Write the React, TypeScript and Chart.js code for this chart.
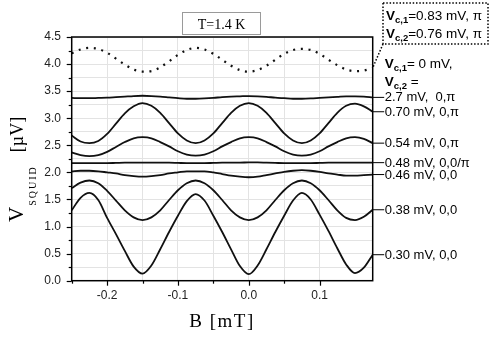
import React, { useEffect, useRef } from 'react';
import { Chart, registerables } from 'chart.js';

Chart.register(...registerables);

// Magnetic field B [mT]
const B = [-0.25, -0.2375, -0.225, -0.2125, -0.2, -0.1875, -0.175, -0.1625, -0.15, -0.1375, -0.125, -0.1125, -0.1, -0.0875, -0.075, -0.0625, -0.05, -0.0375, -0.025, -0.0125, 0, 0.0125, 0.025, 0.0375, 0.05, 0.0625, 0.075, 0.0875, 0.1, 0.1125, 0.125, 0.1375, 0.15, 0.1625, 0.175];

// V_SQUID [µV] for each control voltage
const vDotted = [4.20, 4.27, 4.30, 4.28, 4.21, 4.10, 3.99, 3.90, 3.86, 3.87, 3.94, 4.05, 4.17, 4.26, 4.30, 4.27, 4.19, 4.08, 3.97, 3.89, 3.86, 3.89, 3.97, 4.08, 4.19, 4.26, 4.28, 4.26, 4.19, 4.08, 3.98, 3.90, 3.87, 3.88, 3.93];
const v27 = [3.375, 3.37, 3.37, 3.375, 3.38, 3.39, 3.40, 3.41, 3.415, 3.41, 3.40, 3.385, 3.37, 3.36, 3.36, 3.365, 3.375, 3.39, 3.40, 3.405, 3.41, 3.405, 3.395, 3.38, 3.37, 3.36, 3.36, 3.365, 3.375, 3.385, 3.395, 3.405, 3.405, 3.40, 3.385];
const v070 = [2.68, 2.57, 2.54, 2.58, 2.71, 2.90, 3.09, 3.22, 3.28, 3.23, 3.10, 2.91, 2.72, 2.59, 2.54, 2.59, 2.72, 2.91, 3.10, 3.23, 3.28, 3.23, 3.10, 2.91, 2.72, 2.59, 2.54, 2.59, 2.72, 2.91, 3.10, 3.23, 3.27, 3.22, 3.12];
const v054 = [2.37, 2.32, 2.30, 2.32, 2.38, 2.47, 2.56, 2.63, 2.65, 2.63, 2.56, 2.48, 2.39, 2.33, 2.31, 2.33, 2.39, 2.48, 2.56, 2.63, 2.65, 2.63, 2.56, 2.48, 2.39, 2.33, 2.31, 2.33, 2.39, 2.48, 2.56, 2.63, 2.65, 2.62, 2.54];
const v048 = [2.17, 2.17, 2.17, 2.17, 2.17, 2.175, 2.18, 2.18, 2.18, 2.18, 2.18, 2.18, 2.175, 2.17, 2.17, 2.17, 2.175, 2.18, 2.18, 2.18, 2.185, 2.185, 2.18, 2.175, 2.17, 2.17, 2.17, 2.17, 2.175, 2.18, 2.18, 2.18, 2.18, 2.18, 2.18];
const v046 = [2.02, 2.03, 2.03, 2.02, 2.00, 1.98, 1.95, 1.93, 1.92, 1.93, 1.95, 1.98, 2.00, 2.02, 2.02, 2.02, 2.00, 1.97, 1.94, 1.92, 1.91, 1.92, 1.95, 1.98, 2.01, 2.03, 2.04, 2.03, 2.01, 1.98, 1.96, 1.94, 1.94, 1.95, 1.96];
const v038 = [1.71, 1.81, 1.85, 1.80, 1.66, 1.48, 1.30, 1.17, 1.12, 1.17, 1.30, 1.49, 1.67, 1.80, 1.85, 1.80, 1.67, 1.49, 1.30, 1.17, 1.12, 1.17, 1.30, 1.49, 1.67, 1.80, 1.85, 1.80, 1.67, 1.49, 1.30, 1.16, 1.12, 1.18, 1.31];
const v030 = [1.30, 1.53, 1.62, 1.49, 1.16, 0.86, 0.55, 0.26, 0.13, 0.28, 0.58, 0.90, 1.20, 1.47, 1.60, 1.48, 1.20, 0.90, 0.58, 0.27, 0.12, 0.28, 0.58, 0.90, 1.20, 1.48, 1.62, 1.50, 1.22, 0.92, 0.60, 0.30, 0.14, 0.24, 0.48];

const solidSeries = [v27, v070, v054, v048, v046, v038, v030];
const solidLabels = ['2.7 mV,  0,\u03c0', '0.70 mV, 0,\u03c0', '0.54 mV, 0,\u03c0', '0.48 mV, 0,0/\u03c0', '0.46 mV, 0,0', '0.38 mV, 0,0', '0.30 mV, 0,0'];

const tempLabel = 'T=1.4 K';
const xTitle = 'B [mT]';

const SANS = '"Liberation Sans", Arial, sans-serif';
const SERIF = '"Liberation Serif", "Times New Roman", serif';

function near(v: number, step: number) {
  const q = v / step;
  return Math.abs(q - Math.round(q)) < 1e-6;
}

function rich(ctx: CanvasRenderingContext2D, x: number, y: number, parts: [string, string, number][]) {
  ctx.textAlign = 'left';
  ctx.textBaseline = 'alphabetic';
  for (const [t, f, dy] of parts) {
    ctx.font = f;
    ctx.fillText(t, x, y + dy);
    x += ctx.measureText(t).width;
  }
  return x;
}

const overlay = {
  id: 'overlay',
  afterDraw(chart: any) {
    const ctx: CanvasRenderingContext2D = chart.ctx;
    const a = chart.chartArea;
    const xs = chart.scales.x;
    const ys = chart.scales.y;
    ctx.save();
    ctx.strokeStyle = '#000';
    ctx.fillStyle = '#000';
    // frame
    ctx.lineWidth = 1.5;
    ctx.strokeRect(a.left, a.top, a.right - a.left, a.bottom - a.top);
    // tick marks
    ctx.lineWidth = 1.2;
    xs.ticks.forEach((t: any) => {
      if (!near(t.value, 0.05)) return;
      const major = near(t.value, 0.1);
      const px = Math.round(xs.getPixelForValue(t.value)) + 0.5;
      ctx.beginPath();
      ctx.moveTo(px, a.bottom);
      ctx.lineTo(px, a.bottom + (major ? 5 : 3));
      ctx.stroke();
    });
    ys.ticks.forEach((t: any) => {
      if (!near(t.value, 0.25)) return;
      const major = near(t.value, 0.5);
      const py = Math.round(ys.getPixelForValue(t.value)) + 0.5;
      ctx.beginPath();
      ctx.moveTo(a.left, py);
      ctx.lineTo(a.left - (major ? 5 : 3), py);
      ctx.stroke();
    });

    // right-hand labels with connectors
    const labelX = a.right + 11.5;
    ctx.lineWidth = 1;
    solidSeries.forEach((s, i) => {
      const py = ys.getPixelForValue(s[s.length - 1]);
      ctx.beginPath();
      ctx.moveTo(a.right, py);
      ctx.lineTo(labelX, py);
      ctx.stroke();
      ctx.font = '13px ' + SANS;
      ctx.textAlign = 'left';
      ctx.textBaseline = 'middle';
      ctx.fillText(solidLabels[i], labelX + 0.5, py + 0.5);
    });
    const bold = 'bold 13.5px ' + SANS;
    const subB = 'bold 9.5px ' + SANS;
    const norm = '13.5px ' + SANS;
    rich(ctx, labelX + 0.5, 68, [['V', bold, 0], ['c,1', subB, 3], ['= 0 mV,', norm, 0]]);
    rich(ctx, labelX + 0.5, 86, [['V', bold, 0], ['c,2', subB, 3], [' =', norm, 0]]);

    // dotted box (top right)
    ctx.setLineDash([1.5, 1.8]);
    ctx.lineWidth = 1.5;
    ctx.strokeRect(383, 3, 105, 41);
    ctx.beginPath();
    ctx.moveTo(383, 44);
    ctx.lineTo(a.right, ys.getPixelForValue(vDotted[vDotted.length - 1]));
    ctx.stroke();
    ctx.setLineDash([]);
    rich(ctx, 386, 20, [['V', bold, 0], ['c,1', subB, 3], ['=0.83 mV, \u03c0', norm, 0]]);
    rich(ctx, 386, 38, [['V', bold, 0], ['c,2', subB, 3], ['=0.76 mV, \u03c0', norm, 0]]);

    // temperature box
    ctx.strokeStyle = '#9a9a9a';
    ctx.lineWidth = 1;
    ctx.strokeRect(182.5, 12.5, 78, 22);
    ctx.font = '14px ' + SERIF;
    ctx.textAlign = 'center';
    ctx.textBaseline = 'alphabetic';
    ctx.fillText(tempLabel, 221.5, 28.5);

    // x title
    ctx.font = '19px ' + SERIF;
    (ctx as any).letterSpacing = '1.5px';
    ctx.fillText(xTitle, 222, 327);
    (ctx as any).letterSpacing = '0px';

    // y title (rotated)
    ctx.save();
    ctx.translate(23, 222);
    ctx.rotate(-Math.PI / 2);
    ctx.textAlign = 'left';
    ctx.textBaseline = 'alphabetic';
    ctx.font = '21px ' + SERIF;
    ctx.fillText('V', 0, 0);
    let x = ctx.measureText('V').width + 1;
    ctx.font = '10px ' + SERIF;
    for (const ch of 'SQUID') {
      ctx.fillText(ch, x, 13);
      x += ctx.measureText(ch).width + 2;
    }
    ctx.font = '18px ' + SERIF;
    ctx.textAlign = 'center';
    ctx.fillText('[\u00b5V]', 222 - 134.5, 0);
    ctx.restore();

    ctx.restore();
  },
};

export default function App() {
  const ref = useRef<HTMLCanvasElement | null>(null);
  useEffect(() => {
    if (!ref.current) return;
    const mk = (ys: number[]) => ys.map((y, i) => ({ x: B[i], y }));
    const datasets: any[] = solidSeries.map((s, i) => ({
      label: solidLabels[i],
      data: mk(s),
      borderColor: '#111',
      borderWidth: 1.8,
      pointRadius: 0,
      cubicInterpolationMode: 'monotone',
      fill: false,
    }));
    datasets.push({
      label: 'Vc1=0.83, Vc2=0.76',
      data: mk(vDotted),
      borderColor: '#111',
      borderWidth: 2.2,
      borderDash: [2, 5.7],
      borderCapStyle: 'butt',
      pointRadius: 0,
      cubicInterpolationMode: 'monotone',
      fill: false,
    });
    const chart = new Chart(ref.current, {
      type: 'line',
      data: { datasets },
      options: {
        responsive: false,
        animation: false,
        devicePixelRatio: 1,
        layout: { padding: { left: 0, top: 37, right: 118.3, bottom: 0 } },
        plugins: { legend: { display: false }, tooltip: { enabled: false } },
        scales: {
          x: {
            type: 'linear',
            min: -0.25,
            max: 0.175,
            afterFit: (s: any) => { s.height = 61.3; },
            grid: { color: '#e3e3e3', lineWidth: 1, drawTicks: false, tickLength: 0 },
            border: { display: false },
            ticks: {
              stepSize: 0.05,
              autoSkip: false,
              maxRotation: 0,
              padding: 8,
              color: '#222',
              font: { family: SANS, size: 12 },
              callback: (v: any) => {
                const n = Number(v);
                if (!near(n, 0.1)) return '';
                return Math.abs(n) < 1e-9 ? '0.0' : n.toFixed(1);
              },
            },
          },
          y: {
            type: 'linear',
            min: 0,
            max: 4.5,
            afterFit: (s: any) => { s.width = 71.7; },
            grid: { color: '#e3e3e3', lineWidth: 1, drawTicks: false, tickLength: 0 },
            border: { display: false },
            ticks: {
              stepSize: 0.25,
              autoSkip: false,
              padding: 10.7,
              color: '#222',
              font: { family: SANS, size: 12 },
              callback: (v: any) => {
                const n = Number(v);
                return near(n, 0.5) ? n.toFixed(1) : '';
              },
            },
          },
        },
      },
      plugins: [overlay],
    });
    return () => chart.destroy();
  }, []);
  return (
    <div style={{ position: 'absolute', left: 0, top: 0, width: 491, height: 342, background: '#fff' }}>
      <canvas ref={ref} width={491} height={342} style={{ display: 'block' }} />
    </div>
  );
}
